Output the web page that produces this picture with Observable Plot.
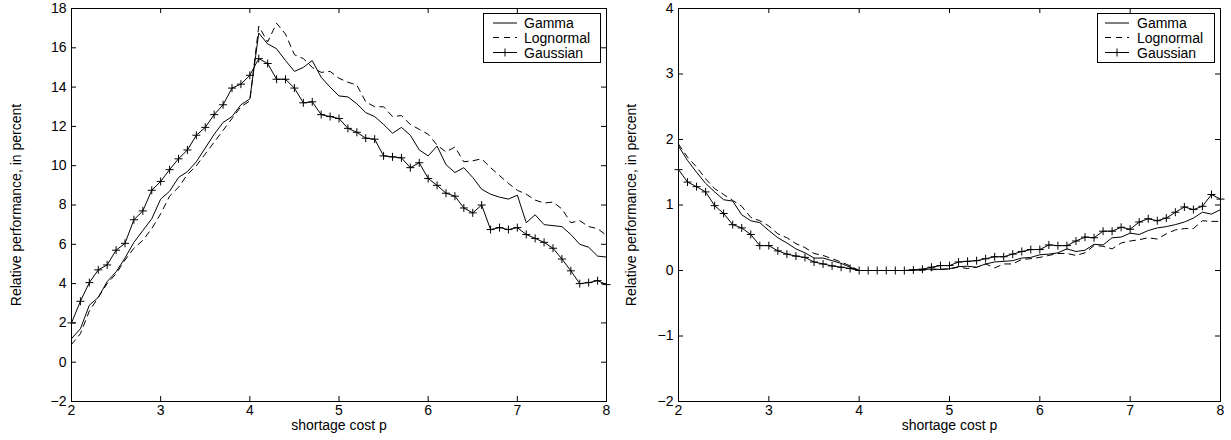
<!DOCTYPE html>
<html>
<head>
<meta charset="utf-8">
<script src="https://cdn.jsdelivr.net/npm/d3@7"></script>
<script src="https://cdn.jsdelivr.net/npm/@observablehq/plot@0.6"></script>
<style>
  body { margin: 0; background: #fff; font-family: "Liberation Sans", Arial, sans-serif; }
  #wrap { position: relative; width: 1231px; height: 440px; background: #fff; }
  .panel { position: absolute; top: 0; }
  .legend { position: absolute; }
</style>
</head>
<body>
<div id="wrap"></div>
<script>
// shortage cost p (x values)
const shortageCost = [2.0,2.1,2.2,2.3,2.4,2.5,2.6,2.7,2.8,2.9,3.0,3.1,3.2,3.3,3.4,3.5,3.6,3.7,3.8,3.9,4.0,
  4.1,4.2,4.3,4.4,4.5,4.6,4.7,4.8,4.9,5.0,5.1,5.2,5.3,5.4,5.5,5.6,5.7,5.8,5.9,6.0,
  6.1,6.2,6.3,6.4,6.5,6.6,6.7,6.8,6.9,7.0,7.1,7.2,7.3,7.4,7.5,7.6,7.7,7.8,7.9,8.0];

const seriesNames = ["Gamma", "Lognormal", "Gaussian"];

// Left panel
const leftGamma = [1.2,1.7,2.9,3.3,4.1,4.6,5.3,6.1,6.7,7.3,8.3,8.7,9.4,9.7,10.2,10.9,11.6,12.2,12.5,13.1,13.4,
  16.75,16.2,15.95,15.35,14.8,15.0,15.35,14.5,14.0,13.55,13.5,13.15,12.7,12.5,12.1,11.65,11.95,11.55,10.8,10.5,
  11.0,10.05,9.65,9.9,9.4,8.8,8.55,8.4,8.3,8.5,7.1,7.5,7.0,6.95,6.9,6.5,6.0,5.85,5.4,5.35];
const leftLognormal = [0.9,1.45,2.6,3.3,4.0,4.5,5.2,5.8,6.2,6.8,7.55,8.45,8.9,9.55,10.0,10.6,11.2,11.8,12.4,13.0,13.3,
  17.1,16.3,17.25,16.7,15.65,15.45,15.0,14.75,14.8,14.45,14.25,14.1,13.25,13.0,13.0,12.5,12.55,12.1,11.85,11.6,
  11.05,10.7,10.95,10.2,10.25,10.35,9.9,9.5,9.1,8.75,8.55,8.25,8.1,8.15,7.8,7.1,7.2,6.9,6.8,6.45];
const leftGaussian = [2.0,3.1,4.05,4.7,4.95,5.7,6.05,7.25,7.7,8.75,9.2,9.8,10.35,10.8,11.55,11.95,12.6,13.1,13.95,14.15,14.6,
  15.45,15.2,14.4,14.4,13.95,13.2,13.25,12.6,12.5,12.4,11.9,11.7,11.4,11.35,10.5,10.45,10.4,9.9,10.15,9.35,
  9.0,8.6,8.45,7.85,7.6,8.0,6.75,6.85,6.75,6.85,6.5,6.3,6.1,5.8,5.25,4.65,4.0,4.05,4.15,3.95];

// Right panel
const rightGamma = [1.9,1.68,1.5,1.33,1.2,1.08,1.06,0.85,0.76,0.73,0.61,0.5,0.42,0.33,0.27,0.19,0.19,0.15,0.11,0.05,0,
  0,0,0,0,0,0.005,0.01,0.025,0.015,0.025,0.06,0.065,0.05,0.1,0.13,0.14,0.15,0.19,0.2,0.24,
  0.25,0.27,0.33,0.29,0.31,0.4,0.39,0.5,0.51,0.57,0.55,0.61,0.65,0.67,0.7,0.74,0.8,0.89,0.86,0.93];
const rightLognormal = [1.93,1.73,1.58,1.4,1.25,1.16,1.07,0.98,0.81,0.76,0.68,0.56,0.5,0.41,0.35,0.26,0.23,0.18,0.13,0.07,0,
  0,0,0,0,0,0,0.005,0.01,0.02,0.025,0.05,0.03,0.05,0.1,0.04,0.1,0.1,0.17,0.18,0.2,
  0.23,0.26,0.26,0.23,0.27,0.38,0.37,0.33,0.42,0.45,0.47,0.5,0.48,0.56,0.62,0.64,0.64,0.76,0.75,0.75];
const rightGaussian = [1.54,1.35,1.28,1.2,0.99,0.87,0.7,0.65,0.55,0.38,0.38,0.3,0.25,0.22,0.2,0.13,0.1,0.07,0.05,0.03,0,
  0,0,0,0,0,0.01,0.02,0.05,0.075,0.075,0.13,0.14,0.15,0.18,0.21,0.21,0.25,0.29,0.32,0.32,
  0.39,0.38,0.38,0.45,0.51,0.5,0.6,0.6,0.66,0.63,0.74,0.79,0.76,0.8,0.89,0.97,0.93,0.98,1.16,1.09];

const xTicks = [2, 3, 4, 5, 6, 7, 8];
const leftYTicks = [-2, 0, 2, 4, 6, 8, 10, 12, 14, 16, 18];
const rightYTicks = [-2, -1, 0, 1, 2, 3, 4];
const xLabel = "shortage cost p";
const yLabel = "Relative performance, in percent";

const FS = 14;

const plusSymbol = {
  draw(context, size) {
    const r = Math.sqrt(size / Math.PI);
    context.moveTo(-r, 0); context.lineTo(r, 0);
    context.moveTo(0, -r); context.lineTo(0, r);
  }
};

function rows(values) {
  return shortageCost.map((p, i) => ({p, v: values[i]}));
}

const fmt = d => d < 0 ? "\u2212" + (-d) : String(d);

function makePanel(cfg) {
  const H = 440, mt = 8, mb = 39;
  const innerW = cfg.width - cfg.ml - cfg.mr;
  const innerH = H - mt - mb;
  const tl = 5;
  return Plot.plot({
    width: cfg.width,
    height: H,
    marginLeft: cfg.ml,
    marginRight: cfg.mr,
    marginTop: mt,
    marginBottom: mb,
    style: {fontFamily: "'Liberation Sans', Arial, sans-serif", fontSize: FS + "px", color: "#000", background: "#fff", overflow: "visible"},
    x: {domain: [2, 8], label: null},
    y: {domain: cfg.yDomain, label: null},
    marks: [
      Plot.axisX(xTicks, {tickSize: 0, tickPadding: 4, tickFormat: fmt, fontSize: FS, label: null}),
      Plot.axisY(cfg.yTicks, {tickSize: 0, tickPadding: 5, tickFormat: fmt, fontSize: FS, label: null}),
      // inward ticks on all four sides
      Plot.tickY(cfg.yTicks, {y: d => d, insetRight: innerW - tl, stroke: "#000"}),
      Plot.tickY(cfg.yTicks, {y: d => d, insetLeft: innerW - tl, stroke: "#000"}),
      Plot.tickX(xTicks, {x: d => d, insetTop: innerH - tl, stroke: "#000"}),
      Plot.tickX(xTicks, {x: d => d, insetBottom: innerH - tl, stroke: "#000"}),
      Plot.line(rows(cfg.gamma), {x: "p", y: "v", stroke: "#000", strokeWidth: 1}),
      Plot.line(rows(cfg.lognormal), {x: "p", y: "v", stroke: "#000", strokeWidth: 1, strokeDasharray: "6,5"}),
      Plot.line(rows(cfg.gaussian), {x: "p", y: "v", stroke: "#000", strokeWidth: 1}),
      Plot.dot(rows(cfg.gaussian), {x: "p", y: "v", symbol: plusSymbol, r: 4, stroke: "#000", fill: "none", strokeWidth: 1}),
      Plot.frame({stroke: "#000", strokeWidth: 1}),
      Plot.text([xLabel], {frameAnchor: "bottom", dy: 28, fontSize: FS, fill: "#000", textAnchor: "middle"}),
      Plot.text([yLabel], {frameAnchor: "left", dx: cfg.ylabelDx, rotate: -90, fontSize: FS, fill: "#000", textAnchor: "middle"})
    ]
  });
}

function makeLegend(left, top, sampleX0, textX) {
  const ns = "http://www.w3.org/2000/svg";
  const w = 117, h = 49;
  const svg = document.createElementNS(ns, "svg");
  svg.setAttribute("width", w + 1);
  svg.setAttribute("height", h + 1);
  svg.setAttribute("class", "legend");
  svg.style.left = left + "px";
  svg.style.top = top + "px";
  const rect = document.createElementNS(ns, "rect");
  rect.setAttribute("x", 0.5); rect.setAttribute("y", 0.5);
  rect.setAttribute("width", w); rect.setAttribute("height", h);
  rect.setAttribute("fill", "#fff"); rect.setAttribute("stroke", "#000");
  svg.appendChild(rect);
  const rowY = [10, 24.5, 39.5];
  const dashes = [null, "6,5", null];
  seriesNames.forEach((name, i) => {
    const ln = document.createElementNS(ns, "line");
    ln.setAttribute("x1", sampleX0); ln.setAttribute("x2", sampleX0 + 24);
    ln.setAttribute("y1", rowY[i]); ln.setAttribute("y2", rowY[i]);
    ln.setAttribute("stroke", "#000");
    if (dashes[i]) ln.setAttribute("stroke-dasharray", dashes[i]);
    svg.appendChild(ln);
    if (name === "Gaussian") {
      const pl = document.createElementNS(ns, "path");
      const cx = sampleX0 + 12, cy = rowY[i];
      pl.setAttribute("d", `M${cx - 4},${cy}H${cx + 4}M${cx},${cy - 4}V${cy + 4}`);
      pl.setAttribute("stroke", "#000");
      svg.appendChild(pl);
    }
    const t = document.createElementNS(ns, "text");
    t.setAttribute("x", textX); t.setAttribute("y", rowY[i] + 5);
    t.setAttribute("font-size", FS);
    t.setAttribute("font-family", "'Liberation Sans', Arial, sans-serif");
    t.textContent = name;
    svg.appendChild(t);
  });
  return svg;
}

const wrap = document.getElementById("wrap");

const left = makePanel({width: 620, ml: 71, mr: 14, yDomain: [-2, 18], yTicks: leftYTicks,
  gamma: leftGamma, lognormal: leftLognormal, gaussian: leftGaussian, ylabelDx: -55});
left.classList.add("panel");
left.style.left = "0px";
wrap.appendChild(left);

const right = makePanel({width: 616, ml: 63, mr: 11, yDomain: [-2, 4], yTicks: rightYTicks,
  gamma: rightGamma, lognormal: rightLognormal, gaussian: rightGaussian, ylabelDx: -47});
right.classList.add("panel");
right.style.left = "615px";
wrap.appendChild(right);

wrap.appendChild(makeLegend(483, 13, 10, 41));
wrap.appendChild(makeLegend(1097, 13, 8, 40));
</script>
</body>
</html>
